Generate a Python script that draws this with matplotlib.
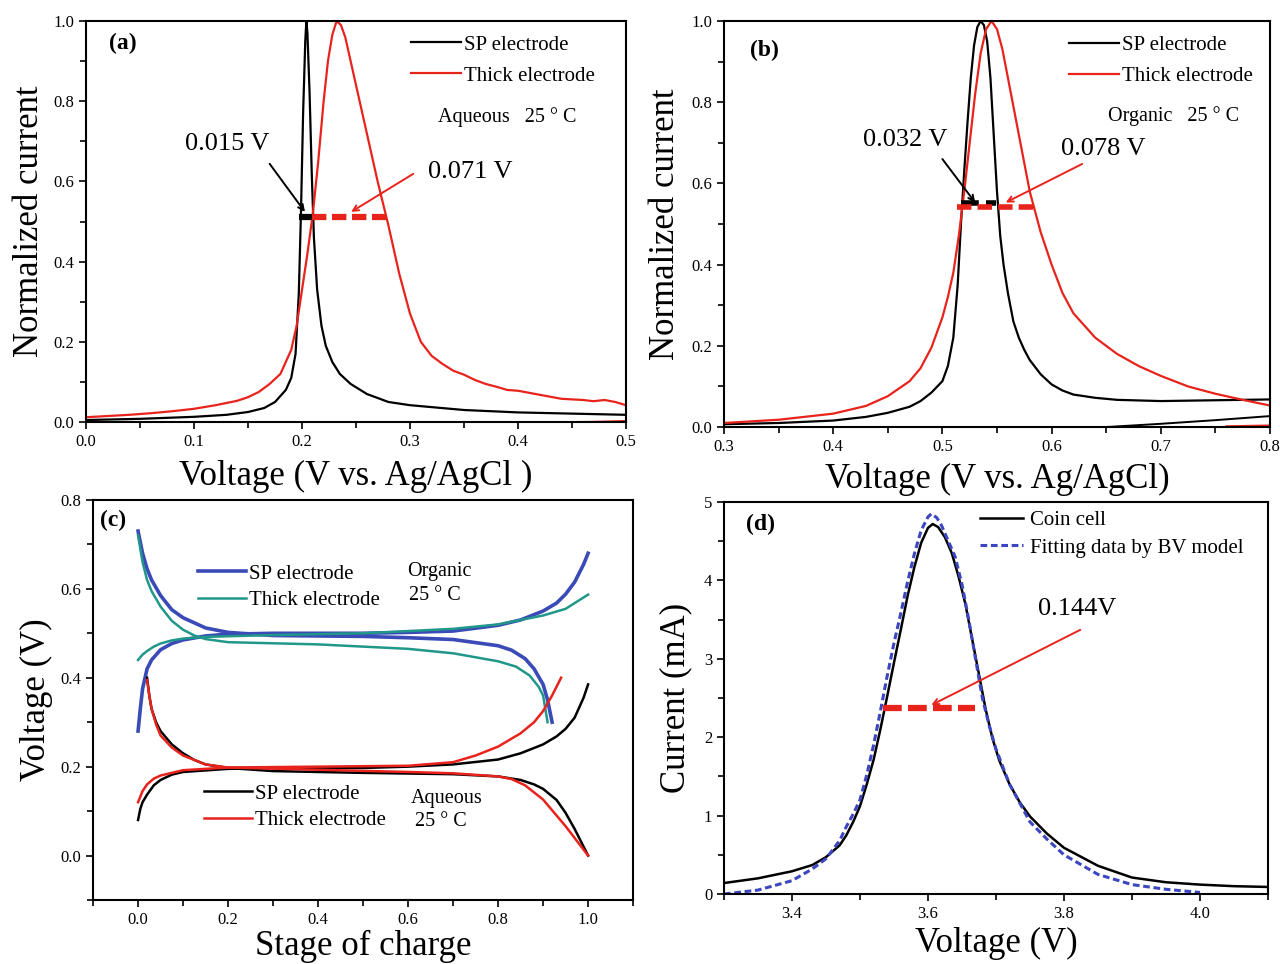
import matplotlib
matplotlib.use("Agg")
import matplotlib.pyplot as plt
from matplotlib.ticker import MultipleLocator

plt.rcParams['font.family'] = ['Liberation Serif', 'DejaVu Serif']

RED = '#e8231c'
BLUE = '#3a4ab6'
TEAL = '#21978a'
DBLUE = '#3c46c0'

# ---- (a) aqueous, normalized CV peaks ----
a_sp_v = [0.0, 0.05, 0.10, 0.13, 0.15, 0.165, 0.175, 0.185, 0.19, 0.194, 0.197,
          0.199, 0.201, 0.203, 0.204, 0.205, 0.207, 0.209, 0.211, 0.214, 0.218,
          0.222, 0.228, 0.235, 0.245, 0.26, 0.28, 0.30, 0.35, 0.40, 0.45, 0.50]
a_sp_i = [0.005, 0.008, 0.013, 0.018, 0.025, 0.035, 0.05, 0.08, 0.11, 0.17, 0.32,
          0.52, 0.77, 0.95, 1.0, 0.97, 0.82, 0.62, 0.46, 0.33, 0.24,
          0.19, 0.15, 0.12, 0.095, 0.07, 0.05, 0.042, 0.03, 0.024, 0.021, 0.018]
a_thick_v = [0.0, 0.02, 0.04, 0.06, 0.08, 0.10, 0.12, 0.14, 0.15, 0.16, 0.17, 0.18,
             0.19, 0.195, 0.20, 0.205, 0.21, 0.215, 0.22, 0.224, 0.228, 0.232, 0.236,
             0.24, 0.245, 0.25, 0.26, 0.27, 0.28, 0.29, 0.30, 0.31, 0.32, 0.33, 0.34,
             0.35, 0.36, 0.37, 0.38, 0.39, 0.40, 0.42, 0.44, 0.46, 0.47, 0.48, 0.49, 0.50]
a_thick_i = [0.012, 0.015, 0.018, 0.022, 0.027, 0.033, 0.042, 0.053, 0.062, 0.075, 0.095, 0.12,
             0.18, 0.24, 0.33, 0.42, 0.52, 0.65, 0.80, 0.90, 0.965, 1.0, 0.99,
             0.96, 0.90, 0.84, 0.72, 0.60, 0.49, 0.37, 0.27, 0.20, 0.165, 0.145, 0.128,
             0.118, 0.105, 0.095, 0.088, 0.08, 0.078, 0.068, 0.058, 0.055, 0.052, 0.055, 0.05, 0.042]
a_tail_v = [0.44, 0.47, 0.50]
a_tail_i = [0.0, 0.001, 0.003]
a_fwhm_sp = [0.197, 0.211, 0.511]
a_fwhm_thick = [0.209, 0.279, 0.511]

# ---- (b) organic, normalized CV peaks ----
b_sp_v = [0.30, 0.35, 0.40, 0.43, 0.45, 0.47, 0.48, 0.49, 0.50, 0.505, 0.51, 0.514,
          0.517, 0.52, 0.523, 0.526, 0.529, 0.532, 0.535, 0.538, 0.541, 0.544, 0.547,
          0.55, 0.553, 0.556, 0.56, 0.565, 0.57, 0.575, 0.58, 0.59, 0.60, 0.61, 0.62,
          0.64, 0.66, 0.70, 0.75, 0.80]
b_sp_i = [0.007, 0.01, 0.016, 0.025, 0.035, 0.05, 0.064, 0.085, 0.113, 0.15, 0.22, 0.35,
          0.50, 0.63, 0.75, 0.86, 0.94, 0.985, 1.0, 0.99, 0.95, 0.86, 0.72,
          0.58, 0.47, 0.40, 0.33, 0.26, 0.22, 0.19, 0.165, 0.13, 0.105, 0.09, 0.08,
          0.072, 0.067, 0.064, 0.066, 0.068]
b_thick_v = [0.30, 0.35, 0.40, 0.43, 0.45, 0.47, 0.48, 0.49, 0.50, 0.505, 0.51, 0.515,
             0.52, 0.525, 0.53, 0.535, 0.54, 0.545, 0.55, 0.555, 0.56, 0.565, 0.57,
             0.575, 0.58, 0.59, 0.60, 0.61, 0.62, 0.64, 0.66, 0.68, 0.70, 0.725, 0.75,
             0.775, 0.80]
b_thick_i = [0.01, 0.018, 0.033, 0.052, 0.076, 0.113, 0.145, 0.196, 0.27, 0.32, 0.38, 0.47,
             0.58, 0.70, 0.82, 0.92, 0.98, 1.0, 0.98, 0.93, 0.86, 0.79, 0.72,
             0.65, 0.58, 0.48, 0.40, 0.33, 0.28, 0.22, 0.18, 0.15, 0.126, 0.10, 0.082,
             0.067, 0.053]
b_sp_ret_v = [0.65, 0.70, 0.75, 0.80]
b_sp_ret_i = [0.0, 0.008, 0.017, 0.027]
b_thick_ret_v = [0.76, 0.80]
b_thick_ret_i = [0.002, 0.004]
b_fwhm_sp = [0.517, 0.549, 0.553]
b_fwhm_thick = [0.513, 0.583, 0.541]

# ---- (c) charge / discharge curves ----
org_sp_chg_x = [0.0, 0.005, 0.01, 0.02, 0.03, 0.05, 0.075, 0.10, 0.15, 0.20, 0.30, 0.50,
                0.60, 0.70, 0.80, 0.85, 0.90, 0.93, 0.95, 0.97, 0.99, 1.0]
org_sp_chg_y = [0.28, 0.33, 0.375, 0.42, 0.44, 0.463, 0.477, 0.485, 0.494, 0.498, 0.50, 0.50,
                0.502, 0.505, 0.518, 0.53, 0.55, 0.568, 0.588, 0.615, 0.655, 0.68]
org_sp_dis_x = [0.0, 0.01, 0.02, 0.03, 0.05, 0.075, 0.10, 0.15, 0.20, 0.30, 0.50, 0.60,
                0.70, 0.80, 0.83, 0.86, 0.88, 0.90, 0.91, 0.92]
org_sp_dis_y = [0.73, 0.68, 0.645, 0.62, 0.585, 0.553, 0.535, 0.512, 0.502, 0.495, 0.493, 0.49,
                0.486, 0.472, 0.462, 0.443, 0.42, 0.385, 0.35, 0.30]
org_th_chg_x = [0.0, 0.01, 0.02, 0.035, 0.05, 0.075, 0.10, 0.15, 0.30, 0.50, 0.70, 0.80,
                0.90, 0.95, 1.0]
org_th_chg_y = [0.44, 0.452, 0.46, 0.47, 0.477, 0.484, 0.488, 0.492, 0.496, 0.50, 0.51, 0.52,
                0.54, 0.555, 0.587]
org_th_dis_x = [0.0, 0.01, 0.02, 0.03, 0.05, 0.075, 0.10, 0.125, 0.15, 0.20, 0.40, 0.60,
                0.70, 0.80, 0.84, 0.87, 0.89, 0.90, 0.91]
org_th_dis_y = [0.72, 0.66, 0.62, 0.595, 0.56, 0.528, 0.508, 0.495, 0.487, 0.48, 0.475, 0.465,
                0.455, 0.437, 0.425, 0.405, 0.38, 0.36, 0.30]
aq_sp_chg_x = [0.0, 0.005, 0.01, 0.02, 0.035, 0.05, 0.075, 0.10, 0.20, 0.30, 0.50, 0.60,
               0.70, 0.80, 0.85, 0.90, 0.93, 0.95, 0.97, 0.99, 1.0]
aq_sp_chg_y = [0.08, 0.105, 0.12, 0.137, 0.158, 0.17, 0.182, 0.188, 0.195, 0.197, 0.197, 0.20,
               0.205, 0.216, 0.23, 0.25, 0.268, 0.285, 0.31, 0.355, 0.385]
aq_sp_dis_x = [0.02, 0.025, 0.03, 0.04, 0.05, 0.075, 0.10, 0.125, 0.15, 0.20, 0.30, 0.50,
               0.70, 0.80, 0.85, 0.88, 0.90, 0.93, 0.95, 0.97, 0.99, 1.0]
aq_sp_dis_y = [0.40, 0.36, 0.33, 0.30, 0.28, 0.25, 0.23, 0.215, 0.205, 0.197, 0.19, 0.186,
               0.183, 0.178, 0.17, 0.16, 0.15, 0.125, 0.096, 0.06, 0.02, 0.0]
aq_th_chg_x = [0.0, 0.01, 0.02, 0.035, 0.05, 0.10, 0.20, 0.40, 0.60, 0.70, 0.75, 0.80,
               0.85, 0.88, 0.90, 0.92, 0.94]
aq_th_chg_y = [0.12, 0.145, 0.16, 0.173, 0.18, 0.192, 0.198, 0.20, 0.202, 0.21, 0.225, 0.245,
               0.275, 0.30, 0.325, 0.36, 0.40]
aq_th_dis_x = [0.02, 0.025, 0.03, 0.04, 0.05, 0.075, 0.10, 0.15, 0.20, 0.40, 0.60, 0.70,
               0.80, 0.83, 0.86, 0.90, 0.95, 1.0]
aq_th_dis_y = [0.395, 0.36, 0.33, 0.295, 0.27, 0.243, 0.225, 0.205, 0.198, 0.193, 0.188, 0.185,
               0.178, 0.172, 0.158, 0.126, 0.066, 0.0]

# ---- (d) coin cell vs BV fit ----
d_cell_v = [3.30, 3.35, 3.40, 3.43, 3.45, 3.47, 3.48, 3.49, 3.50, 3.51, 3.52, 3.53,
            3.54, 3.55, 3.56, 3.57, 3.58, 3.59, 3.60, 3.607, 3.615, 3.625, 3.635, 3.645,
            3.655, 3.665, 3.675, 3.685, 3.695, 3.705, 3.72, 3.735, 3.75, 3.775, 3.80,
            3.85, 3.90, 3.95, 4.0, 4.05, 4.1]
d_cell_i = [0.14, 0.20, 0.29, 0.37, 0.47, 0.62, 0.75, 0.92, 1.12, 1.4, 1.71, 2.1,
            2.52, 2.95, 3.37, 3.8, 4.17, 4.48, 4.67, 4.72, 4.68, 4.55, 4.35, 4.05,
            3.7, 3.25, 2.8, 2.35, 1.98, 1.7, 1.4, 1.17, 0.99, 0.77, 0.59,
            0.36, 0.21, 0.15, 0.12, 0.10, 0.09]
d_fit_v = [3.30, 3.35, 3.40, 3.43, 3.45, 3.47, 3.48, 3.49, 3.50, 3.51, 3.52, 3.53,
           3.54, 3.55, 3.56, 3.57, 3.58, 3.59, 3.60, 3.605, 3.613, 3.62, 3.63, 3.64,
           3.65, 3.66, 3.67, 3.68, 3.69, 3.70, 3.72, 3.75, 3.775, 3.80, 3.85, 3.90, 3.95, 4.0]
d_fit_i = [0.0, 0.05, 0.17, 0.32, 0.45, 0.68, 0.86, 1.02, 1.2, 1.52, 1.9, 2.33,
           2.78, 3.2, 3.58, 3.98, 4.34, 4.64, 4.81, 4.85, 4.8, 4.7, 4.5, 4.3,
           3.95, 3.5, 3.0, 2.5, 2.15, 1.85, 1.4, 0.92, 0.7, 0.5, 0.25, 0.12, 0.06, 0.02]
d_fwhm = [3.534, 3.669, 2.37]

LAB = 25
TICK = 12
LEG = 15


def style(ax):
    for s in ax.spines.values():
        s.set_linewidth(1.5)
    ax.tick_params(which='both', direction='out', width=1.2, labelsize=TICK,
                   top=False, right=False)
    ax.tick_params(which='major', length=5)
    ax.tick_params(which='minor', length=4)


fig = plt.figure(figsize=(12.8, 9.64), dpi=100)
ax_a = fig.add_axes([0.0672, 0.5622, 0.4219, 0.416])
ax_b = fig.add_axes([0.5656, 0.557, 0.4266, 0.4212])
ax_c = fig.add_axes([0.0727, 0.0664, 0.4219, 0.415])
ax_d = fig.add_axes([0.5656, 0.0726, 0.425, 0.4066])

# (a)
ax = ax_a
ax.plot(a_sp_v, a_sp_i, color='k', lw=1.6, label='SP electrode')
ax.plot(a_thick_v, a_thick_i, color=RED, lw=1.6, label='Thick electrode')
ax.plot(a_tail_v, a_tail_i, color=RED, lw=1.2)
ax.plot(a_fwhm_sp[:2], [a_fwhm_sp[2]] * 2, color='k', lw=4.5, solid_capstyle='butt')
ax.plot(a_fwhm_thick[:2], [a_fwhm_thick[2]] * 2, color=RED, lw=4.5,
        linestyle=(0, (2.3, 0.9)))
ax.annotate('', xy=(0.2027, 0.524), xytext=(0.170, 0.644),
            arrowprops=dict(arrowstyle='->', color='k', lw=1.4, shrinkA=0, shrinkB=0))
ax.annotate('', xy=(0.2455, 0.524), xytext=(0.303, 0.619),
            arrowprops=dict(arrowstyle='->', color=RED, lw=1.4, shrinkA=0, shrinkB=0))
ax.text(0.131, 0.694, '0.015 V', fontsize=19, ha='center', va='center')
ax.text(0.356, 0.623, '0.071 V', fontsize=19, ha='center', va='center')
ax.text(0.326, 0.76, 'Aqueous   25 ° C', fontsize=14.5, va='center')
ax.text(0.021, 0.943, '(a)', fontsize=17, fontweight='bold', va='center')
ax.legend(loc='upper left', bbox_to_anchor=(0.602, 0.965), frameon=False, fontsize=LEG,
          handlelength=2.4, handletextpad=0.15, labelspacing=0.55, borderpad=0,
          borderaxespad=0)
ax.set_xlim(0, 0.5)
ax.set_ylim(0, 1.0)
ax.xaxis.set_major_locator(MultipleLocator(0.1))
ax.xaxis.set_minor_locator(MultipleLocator(0.05))
ax.yaxis.set_major_locator(MultipleLocator(0.2))
ax.yaxis.set_minor_locator(MultipleLocator(0.1))
ax.set_xlabel('Voltage (V vs. Ag/AgCl )', fontsize=LAB, labelpad=7.5)
ax.set_ylabel('Normalized current', fontsize=LAB, labelpad=5)
style(ax)

# (b)
ax = ax_b
ax.plot(b_sp_v, b_sp_i, color='k', lw=1.6, label='SP electrode')
ax.plot(b_thick_v, b_thick_i, color=RED, lw=1.6, label='Thick electrode')
ax.plot(b_sp_ret_v, b_sp_ret_i, color='k', lw=1.4)
ax.plot(b_thick_ret_v, b_thick_ret_i, color=RED, lw=1.4)
ax.plot(b_fwhm_sp[:2], [b_fwhm_sp[2]] * 2, color='k', lw=4, linestyle=(0, (3.2, 1.3)))
ax.plot(b_fwhm_thick[:2], [b_fwhm_thick[2]] * 2, color=RED, lw=4,
        linestyle=(0, (2.6, 1.1)))
ax.annotate('', xy=(0.530, 0.553), xytext=(0.500, 0.66),
            arrowprops=dict(arrowstyle='->', color='k', lw=1.4, shrinkA=0, shrinkB=0))
ax.annotate('', xy=(0.558, 0.553), xytext=(0.628, 0.648),
            arrowprops=dict(arrowstyle='->', color=RED, lw=1.4, shrinkA=0, shrinkB=0))
ax.text(0.466, 0.706, '0.032 V', fontsize=19, ha='center', va='center')
ax.text(0.647, 0.685, '0.078 V', fontsize=19, ha='center', va='center')
ax.text(0.652, 0.767, 'Organic   25 ° C', fontsize=14.5, va='center')
ax.text(0.324, 0.928, '(b)', fontsize=17, fontweight='bold', va='center')
ax.legend(loc='upper left', bbox_to_anchor=(0.632, 0.965), frameon=False, fontsize=LEG,
          handlelength=2.4, handletextpad=0.15, labelspacing=0.55, borderpad=0,
          borderaxespad=0)
ax.set_xlim(0.3, 0.8)
ax.set_ylim(0, 1.0)
ax.xaxis.set_major_locator(MultipleLocator(0.1))
ax.xaxis.set_minor_locator(MultipleLocator(0.05))
ax.yaxis.set_major_locator(MultipleLocator(0.2))
ax.yaxis.set_minor_locator(MultipleLocator(0.1))
ax.set_xlabel('Voltage (V vs. Ag/AgCl)', fontsize=LAB, labelpad=6)
ax.set_ylabel('Normalized current', fontsize=LAB, labelpad=7)
style(ax)

# (c)
ax = ax_c
h1, = ax.plot(org_sp_chg_x, org_sp_chg_y, color=BLUE, lw=2.6, label='SP electrode')
ax.plot(org_sp_dis_x, org_sp_dis_y, color=BLUE, lw=2.6)
h2, = ax.plot(org_th_chg_x, org_th_chg_y, color=TEAL, lw=1.8, label='Thick electrode')
ax.plot(org_th_dis_x, org_th_dis_y, color=TEAL, lw=1.8)
h3, = ax.plot(aq_sp_chg_x, aq_sp_chg_y, color='k', lw=1.8, label='SP electrode')
ax.plot(aq_sp_dis_x, aq_sp_dis_y, color='k', lw=1.8)
h4, = ax.plot(aq_th_chg_x, aq_th_chg_y, color=RED, lw=1.8, label='Thick electrode')
ax.plot(aq_th_dis_x, aq_th_dis_y, color=RED, lw=1.8)
leg1 = ax.legend(handles=[h1, h2], loc='upper left', bbox_to_anchor=(0.195, 0.84),
                 frameon=False, fontsize=LEG, handlelength=2.3, handletextpad=0.15,
                 labelspacing=0.35, borderpad=0, borderaxespad=0)
ax.add_artist(leg1)
ax.legend(handles=[h3, h4], loc='upper left', bbox_to_anchor=(0.206, 0.29),
          frameon=False, fontsize=LEG, handlelength=2.3, handletextpad=0.15,
          labelspacing=0.35, borderpad=0, borderaxespad=0)
ax.text(0.597, 0.64, 'Organic', fontsize=14.5, va='center')
ax.text(0.603, 0.585, '25 ° C', fontsize=14.5, va='center')
ax.text(0.606, 0.128, 'Aqueous', fontsize=14.5, va='center')
ax.text(0.615, 0.077, '25 ° C', fontsize=14.5, va='center')
ax.text(-0.085, 0.753, '(c)', fontsize=17, fontweight='bold', va='center')
ax.set_xlim(-0.1, 1.1)
ax.set_ylim(-0.1, 0.8)
ax.xaxis.set_major_locator(MultipleLocator(0.2))
ax.xaxis.set_minor_locator(MultipleLocator(0.1))
ax.yaxis.set_major_locator(MultipleLocator(0.2))
ax.yaxis.set_minor_locator(MultipleLocator(0.1))
ax.set_xticks([0.0, 0.2, 0.4, 0.6, 0.8, 1.0])
ax.set_xlabel('Stage of charge', fontsize=LAB, labelpad=1.5)
ax.set_ylabel('Voltage (V)', fontsize=LAB, labelpad=5)
style(ax)

# (d)
ax = ax_d
ax.plot(d_cell_v, d_cell_i, color='k', lw=1.8, label='Coin cell')
ax.plot(d_fit_v, d_fit_i, color=DBLUE, lw=2.2, linestyle=(0, (2.2, 1.2)),
        label='Fitting data by BV model')
ax.plot(d_fwhm[:2], [d_fwhm[2]] * 2, color=RED, lw=4.5, linestyle=(0, (3.0, 1.0)))
ax.annotate('', xy=(3.605, 2.41), xytext=(3.824, 3.37),
            arrowprops=dict(arrowstyle='->', color=RED, lw=1.4, shrinkA=0, shrinkB=0))
ax.text(3.82, 3.64, '0.144V', fontsize=19, ha='center', va='center')
ax.text(3.332, 4.72, '(d)', fontsize=17, fontweight='bold', va='center')
ax.legend(loc='upper left', bbox_to_anchor=(0.47, 0.978), frameon=False, fontsize=LEG,
          handlelength=2.1, handletextpad=0.3, labelspacing=0.37, borderpad=0,
          borderaxespad=0)
ax.set_xlim(3.3, 4.1)
ax.set_ylim(0, 5)
ax.set_xticks([3.4, 3.6, 3.8, 4.0])
ax.xaxis.set_minor_locator(MultipleLocator(0.1))
ax.yaxis.set_major_locator(MultipleLocator(1))
ax.yaxis.set_minor_locator(MultipleLocator(0.5))
ax.set_xlabel('Voltage (V)', fontsize=LAB, labelpad=4)
ax.set_ylabel('Current (mA)', fontsize=LAB, labelpad=8)
style(ax)

fig.savefig('out.png', dpi=100)
